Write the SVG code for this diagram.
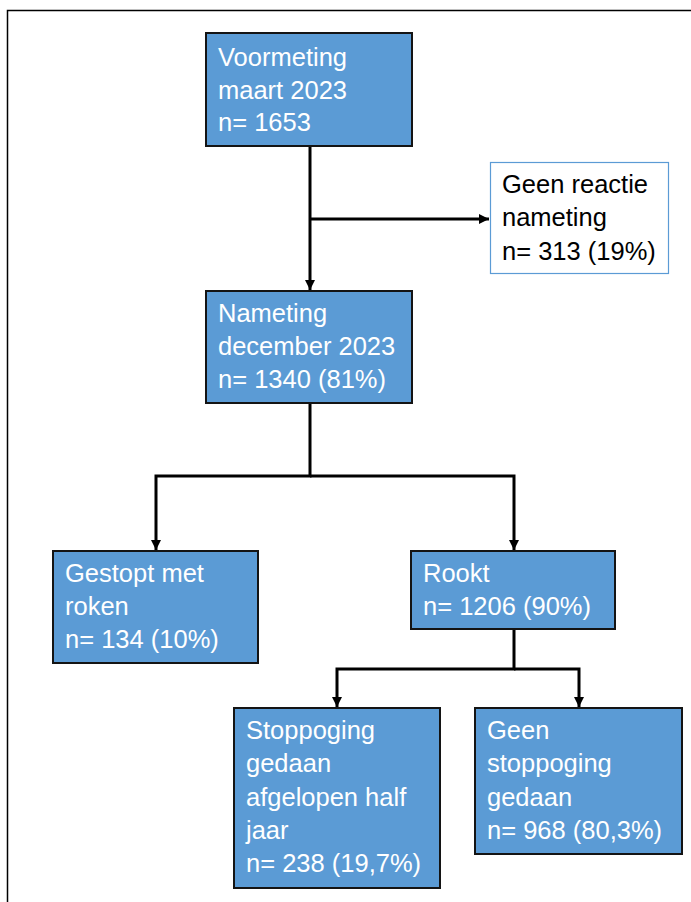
<svg xmlns="http://www.w3.org/2000/svg" width="691" height="902" viewBox="0 0 691 902">
<style>
.box{fill:#5b9bd5;stroke:#141414;stroke-width:2}
.wbox{fill:#fff;stroke:#5b9bd5;stroke-width:1.2}
.t{font-family:"Liberation Sans",Arial,sans-serif;font-size:25.5px;fill:#fff}
.tb{font-family:"Liberation Sans",Arial,sans-serif;font-size:25.5px;fill:#000}
.c{fill:none;stroke:#000;stroke-width:3}
</style>
<defs>
<marker id="ah" viewBox="0 0 10 10" refX="10" refY="5" markerWidth="3.5" markerHeight="3.5" orient="auto" markerUnits="strokeWidth">
<path d="M0,0 L10,5 L0,10 z" fill="#000"/>
</marker>
</defs>
<rect width="691" height="902" fill="#fff"/>
<path d="M7.5,902 V10.5 H691" fill="none" stroke="#000" stroke-width="1.5"/>
<g id="connectors">
<path class="c" d="M310,146 V290" marker-end="url(#ah)"/>
<path class="c" d="M310,219 H489" marker-end="url(#ah)"/>
<path class="c" d="M310,403 V476 H156 V550" marker-end="url(#ah)"/>
<path class="c" d="M310,476 H514 V550" marker-end="url(#ah)"/>
<path class="c" d="M514,629 V669 H337 V707" marker-end="url(#ah)"/>
<path class="c" d="M514,669 H579 V707" marker-end="url(#ah)"/>
</g>
<g id="voormeting">
<rect class="box" x="206" y="33" width="206" height="113"/>
<text class="t" x="218" y="66">Voormeting</text>
<text class="t" x="218" y="99">maart 2023</text>
<text class="t" x="218" y="131">n= 1653</text>
</g>
<g id="geen-reactie">
<rect class="wbox" x="490.5" y="162.5" width="178" height="111"/>
<text class="tb" x="502" y="193">Geen reactie</text>
<text class="tb" x="502" y="226">nameting</text>
<text class="tb" x="502" y="260">n= 313 (19%)</text>
</g>
<g id="nameting">
<rect class="box" x="206" y="291" width="206" height="112"/>
<text class="t" x="218" y="322">Nameting</text>
<text class="t" x="218" y="355">december 2023</text>
<text class="t" x="218" y="388">n= 1340 (81%)</text>
</g>
<g id="gestopt">
<rect class="box" x="53" y="551" width="205" height="112"/>
<text class="t" x="65" y="582">Gestopt met</text>
<text class="t" x="65" y="615">roken</text>
<text class="t" x="65" y="648">n= 134 (10%)</text>
</g>
<g id="rookt">
<rect class="box" x="411" y="551" width="204" height="78"/>
<text class="t" x="423" y="582">Rookt</text>
<text class="t" x="423" y="615">n= 1206 (90%)</text>
</g>
<g id="stoppoging">
<rect class="box" x="234" y="708" width="206" height="180"/>
<text class="t" x="246" y="739">Stoppoging</text>
<text class="t" x="246" y="772">gedaan</text>
<text class="t" x="246" y="806">afgelopen half</text>
<text class="t" x="246" y="839">jaar</text>
<text class="t" x="246" y="872">n= 238 (19,7%)</text>
</g>
<g id="geen-stoppoging">
<rect class="box" x="475" y="708" width="207" height="146"/>
<text class="t" x="487" y="739">Geen</text>
<text class="t" x="487" y="772">stoppoging</text>
<text class="t" x="487" y="806">gedaan</text>
<text class="t" x="487" y="839">n= 968 (80,3%)</text>
</g>
</svg>
